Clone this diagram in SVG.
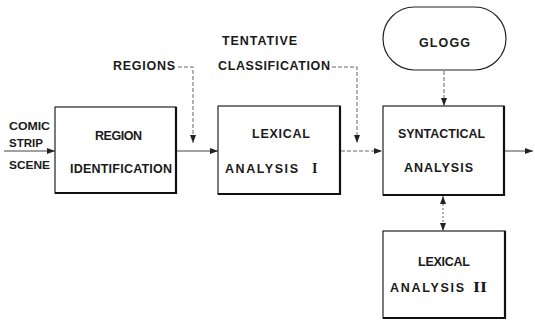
<svg xmlns="http://www.w3.org/2000/svg" width="535" height="322" viewBox="0 0 535 322">
<defs>
<marker id="ah" viewBox="0 0 8 6" refX="8" refY="3" markerWidth="8" markerHeight="6" markerUnits="userSpaceOnUse" orient="auto-start-reverse">
<path d="M0,0 L8,3 L0,6 Z" fill="#222"/>
</marker>
</defs>
<style>
.box{fill:#fff;stroke:#222;stroke-width:1.2}
.sh{fill:none;stroke:#111;stroke-width:2.2}
.t{font-family:"Liberation Sans",Arial,sans-serif;font-size:12.5px;font-weight:bold;fill:#1a1a1a}
.s{font-size:11.5px}
.rn{font-family:"Liberation Serif","Times New Roman",serif;font-size:14px;font-weight:bold;fill:#1a1a1a}
.c{fill:none;stroke:#444;stroke-width:1}
.d{fill:none;stroke:#555;stroke-width:0.9;stroke-dasharray:4 2}
.dt{fill:none;stroke:#555;stroke-width:0.9;stroke-dasharray:2 2}
</style>
<rect width="535" height="322" fill="#fff"/>
<g id="connectors">
<line class="c" x1="4" y1="151" x2="55" y2="151" marker-end="url(#ah)"/>
<line class="c" x1="176" y1="151" x2="218" y2="151" marker-end="url(#ah)"/>
<polyline class="d" points="178,67 193,67 193,143" marker-end="url(#ah)"/>
<polyline class="d" points="332,67 357,67 357,143" marker-end="url(#ah)"/>
<line class="d" x1="341" y1="151" x2="382" y2="151" marker-end="url(#ah)"/>
<line class="c" x1="505" y1="151" x2="533" y2="151" marker-end="url(#ah)"/>
<line class="d" x1="444" y1="71" x2="444" y2="106" marker-end="url(#ah)"/>
<line class="dt" x1="443" y1="196" x2="443" y2="231" marker-start="url(#ah)" marker-end="url(#ah)"/>
</g>
<g id="input">
<text class="t s" x="9" y="130" textLength="41" lengthAdjust="spacingAndGlyphs">COMIC</text>
<text class="t s" x="9" y="147" textLength="34" lengthAdjust="spacingAndGlyphs">STRIP</text>
<text class="t s" x="9" y="169" textLength="41" lengthAdjust="spacingAndGlyphs">SCENE</text>
</g>
<g id="label-regions">
<text class="t" x="113" y="70" textLength="62" lengthAdjust="spacing">REGIONS</text>
</g>
<g id="label-tentative">
<text class="t" x="222" y="45" textLength="75" lengthAdjust="spacing">TENTATIVE</text>
<text class="t" x="218" y="70" textLength="112" lengthAdjust="spacing">CLASSIFICATION</text>
</g>
<g id="region-identification">
<rect class="box" x="55" y="107" width="121" height="86"/>
<polyline class="sh" points="176,107 176,193 55,193"/>
<text class="t" x="95" y="140" textLength="47" lengthAdjust="spacing">REGION</text>
<text class="t" x="70" y="173" textLength="102" lengthAdjust="spacing">IDENTIFICATION</text>
</g>
<g id="lexical-analysis-1">
<rect class="box" x="218" y="106" width="122" height="88"/>
<polyline class="sh" points="340,106 340,194 218,194"/>
<text class="t" x="252" y="138" textLength="58" lengthAdjust="spacing">LEXICAL</text>
<text class="t" x="225" y="173" textLength="73" lengthAdjust="spacing">ANALYSIS</text>
<text class="rn" x="312" y="173">I</text>
</g>
<g id="glogg">
<rect class="box" x="383" y="7" width="123" height="63" rx="31.5" ry="31.5"/>
<text class="t" x="419" y="47" textLength="51" lengthAdjust="spacing">GLOGG</text>
</g>
<g id="syntactical-analysis">
<rect class="box" x="383" y="106" width="121" height="89"/>
<polyline class="sh" points="504,106 504,195 383,195"/>
<text class="t" x="398" y="138" textLength="87" lengthAdjust="spacingAndGlyphs">SYNTACTICAL</text>
<text class="t" x="404" y="172" textLength="69" lengthAdjust="spacing">ANALYSIS</text>
</g>
<g id="lexical-analysis-2">
<rect class="box" x="383" y="231" width="122" height="87"/>
<polyline class="sh" points="505,231 505,318 383,318"/>
<text class="t" x="418" y="266" textLength="52" lengthAdjust="spacing">LEXICAL</text>
<text class="t" x="390" y="292" textLength="74" lengthAdjust="spacing">ANALYSIS</text>
<text class="rn" x="473" y="292" textLength="14" lengthAdjust="spacingAndGlyphs">II</text>
</g>
</svg>
